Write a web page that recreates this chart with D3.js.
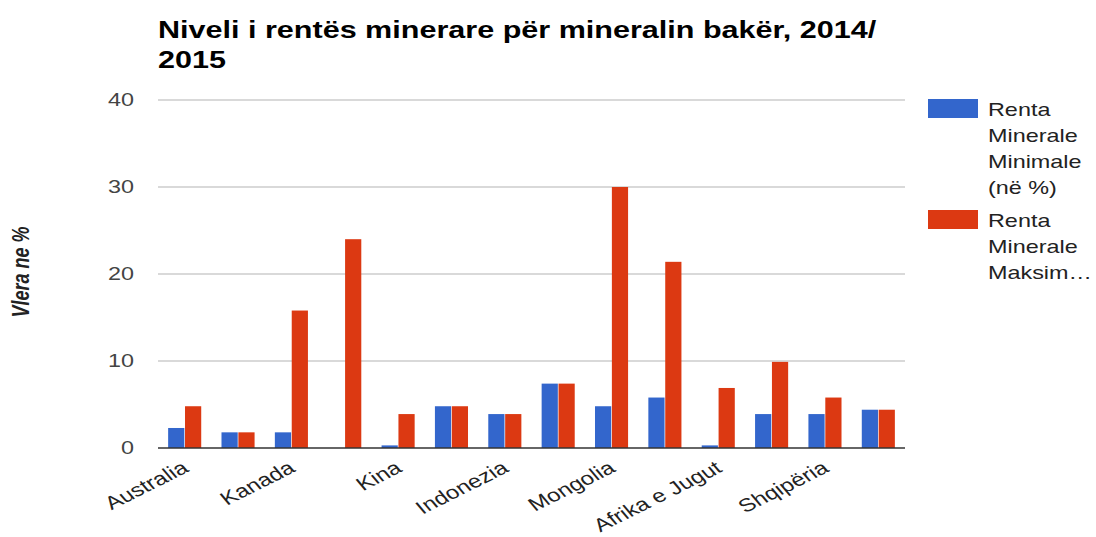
<!DOCTYPE html>
<html>
<head>
<meta charset="utf-8">
<script src="https://cdn.jsdelivr.net/npm/d3@7"></script>
<style>
  body { margin: 0; background: #fff; }
  text { font-family: "Liberation Sans", Arial, sans-serif; }
</style>
</head>
<body>
<div id="graph"></div>
<script>
// categories (only every other one is labelled in the chart)
var countries = ["Australia", "Brazili", "Kanada", "Kili", "Kina", "Kongo", "Indonezia",
  "Kazakistani", "Mongolia", "Peru", "Afrika e Jugut", "Zambia", "Shqipëria", "Mesatarja"];
var rentaMin = [2.3, 1.8, 1.8, 0, 0.3, 4.8, 3.9, 7.4, 4.8, 5.8, 0.3, 3.9, 3.9, 4.4];
var rentaMax = [4.8, 1.8, 15.8, 24, 3.9, 4.8, 3.9, 7.4, 30, 21.4, 6.9, 9.9, 5.8, 4.4];
var seriesNames = [["Renta", "Minerale", "Minimale", "(në %)"], ["Renta", "Minerale", "Maksim…"]];
var yTicks = [0, 10, 20, 30, 40];
var colors = ["#3366cc", "#dc3912"];

var sx = 1.3; // the picture is stretched horizontally
var W = 1096, H = 537;
var iw = W / sx;
var m = {left: 158 / sx, right: 905 / sx, top: 100, bottom: 448};

var svg = d3.select("#graph").append("svg")
  .attr("width", W)
  .attr("height", H)
  .attr("viewBox", "0 0 " + iw + " " + H)
  .attr("preserveAspectRatio", "none");

var x = d3.scaleBand().domain(countries).range([m.left, m.right]).padding(0);
var y = d3.scaleLinear().domain([0, 40]).range([m.bottom, m.top]);
var inner = d3.scaleBand().domain([0, 1])
  .range([x.bandwidth() * 0.19, x.bandwidth() * 0.81]).paddingInner(0.04);

// gridlines
svg.append("g").selectAll("line")
  .data(yTicks.filter(function(d) { return d > 0; }))
  .join("line")
  .attr("x1", m.left).attr("x2", m.right)
  .attr("y1", function(d) { return y(d); })
  .attr("y2", function(d) { return y(d); })
  .attr("stroke", "#cccccc").attr("stroke-width", 1.3);

// y axis labels
var yAxis = d3.axisLeft(y).tickValues(yTicks).tickSize(0).tickPadding(0);
var ya = svg.append("g")
  .attr("transform", "translate(" + (134 / sx) + ",0)")
  .call(yAxis);
ya.select(".domain").remove();
ya.selectAll("text")
  .attr("font-size", 18)
  .attr("fill", "#444")
  .attr("font-family", "Liberation Sans, Arial, sans-serif");

// bars
var series = [rentaMin, rentaMax];
series.forEach(function(vals, si) {
  svg.append("g").selectAll("rect")
    .data(vals)
    .join("rect")
    .attr("x", function(d, i) { return x(countries[i]) + inner(si); })
    .attr("width", inner.bandwidth())
    .attr("y", function(d) { return y(d); })
    .attr("height", function(d) { return y(0) - y(d); })
    .attr("fill", colors[si]);
});

// baseline
svg.append("line")
  .attr("x1", m.left).attr("x2", m.right)
  .attr("y1", y(0)).attr("y2", y(0))
  .attr("stroke", "#333").attr("stroke-width", 1.5);

// x labels, every other category
svg.append("g").selectAll("text")
  .data(countries.filter(function(d, i) { return i % 2 === 0; }))
  .join("text")
  .attr("transform", function(d) {
    return "translate(" + (x(d) + x.bandwidth() / 2 + 4) + "," + (y(0) + 23) + ") rotate(-33)";
  })
  .attr("text-anchor", "end")
  .attr("font-size", 18.5)
  .attr("fill", "#222")
  .text(function(d) { return d; });

// title
var title = svg.append("text")
  .attr("x", m.left)
  .attr("y", 38)
  .attr("font-size", 23.5)
  .attr("font-weight", "bold")
  .attr("fill", "#000");
title.append("tspan").attr("x", m.left).text("Niveli i rentës minerare për mineralin bakër, 2014/");
title.append("tspan").attr("x", m.left).attr("dy", 30).text("2015");

// y axis title
svg.append("text")
  .attr("transform", "translate(" + (29 / sx) + "," + 272 + ") rotate(-90)")
  .attr("text-anchor", "middle")
  .attr("font-size", 18)
  .attr("font-style", "italic")
  .attr("font-weight", "bold")
  .attr("fill", "#222")
  .text("Vlera ne %");

// legend
var legendTop = [99, 210];
seriesNames.forEach(function(lines, si) {
  var g = svg.append("g");
  g.append("rect")
    .attr("x", 928 / sx).attr("y", legendTop[si])
    .attr("width", 50 / sx).attr("height", 19)
    .attr("fill", colors[si]);
  g.selectAll("text")
    .data(lines)
    .join("text")
    .attr("x", 988 / sx)
    .attr("y", function(d, i) { return legendTop[si] + 17 + i * 26; })
    .attr("font-size", 18)
    .attr("fill", "#222")
    .text(function(d) { return d; });
});
</script>
</body>
</html>
